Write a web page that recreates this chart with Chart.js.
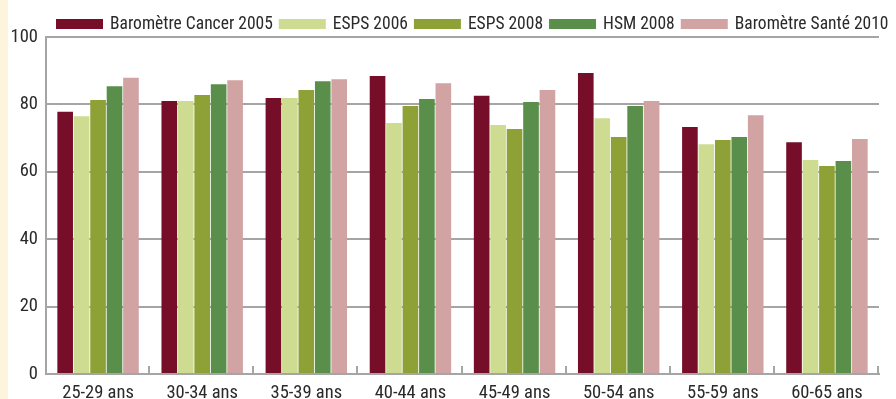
<!DOCTYPE html>
<html>
<head>
<meta charset="utf-8">
<script src="https://cdn.jsdelivr.net/npm/chart.js@4.4.1/dist/chart.umd.min.js"></script>
<style>
  html, body { margin: 0; padding: 0; }
  body {
    width: 896px; height: 399px; overflow: hidden;
    background: linear-gradient(to right, #fcf4db 0, #fcf4db 8px, #ffffff 8px);
  }
  canvas { display: block; }
</style>
</head>
<body>
<canvas id="chart" width="896" height="399"></canvas>
<script>
// Age groups along the x axis
const ageGroups = ['25-29 ans', '30-34 ans', '35-39 ans', '40-44 ans', '45-49 ans', '50-54 ans', '55-59 ans', '60-65 ans'];

// Percentages per survey
const barometreCancer2005 = [77.8, 81.0, 81.9, 88.4, 82.6, 89.3, 73.3, 68.8];
const esps2006            = [76.5, 81.0, 81.9, 74.5, 73.9, 75.9, 68.2, 63.5];
const esps2008            = [81.3, 82.8, 84.3, 79.5, 72.7, 70.3, 69.4, 61.7];
const hsm2008             = [85.4, 86.0, 86.9, 81.6, 80.7, 79.5, 70.3, 63.2];
const barometreSante2010  = [87.9, 87.2, 87.5, 86.3, 84.3, 81.0, 76.8, 69.7];

// Value axis ticks
const yTicks = [0, 20, 40, 60, 80, 100];

const FONT_FAMILY = '"Roboto Condensed", Roboto, sans-serif';
const FONT_SIZE = 18.5;
const LEGEND_FONT_SIZE = 17.5;
const TEXT_COLOR = '#2a2a2a';
const GRID_COLOR = '#a5a5a5';

// Legend drawn as a single row above the plot
const topLegend = {
  id: 'topLegend',
  afterDraw(chart) {
    const ctx = chart.ctx;
    const boxW = 47, boxH = 10, gapText = 7, gapItem = 6;
    const yc = 24;
    ctx.save();
    ctx.font = LEGEND_FONT_SIZE + 'px ' + FONT_FAMILY;
    ctx.textBaseline = 'middle';
    let x = chart.chartArea.left + 10;
    const items = [];
    chart.data.datasets.forEach(ds => {
      items.push({ x, ds });
      x += boxW + gapText + ctx.measureText(ds.label).width + gapItem;
    });
    items.forEach(it => {
      ctx.fillStyle = it.ds.backgroundColor;
      ctx.fillRect(it.x, yc - boxH / 2, boxW, boxH);
    });
    ctx.fillStyle = TEXT_COLOR;
    items.forEach(it => {
      ctx.fillText(it.ds.label, it.x + boxW + gapText, yc + 1);
    });
    ctx.restore();
  }
};

// Short upward ticks on the baseline between age groups
const groupTicks = {
  id: 'groupTicks',
  afterDraw(chart) {
    const xs = chart.scales.x;
    const ctx = chart.ctx;
    const n = chart.data.labels.length;
    const base = chart.chartArea.bottom;
    ctx.save();
    ctx.strokeStyle = GRID_COLOR;
    ctx.lineWidth = 2;
    ctx.beginPath();
    for (let i = 1; i <= n; i++) {
      const px = Math.round(xs.getPixelForValue(i - 0.5)) - 1;
      ctx.moveTo(px, base);
      ctx.lineTo(px, base - 8);
    }
    ctx.stroke();
    ctx.restore();
  }
};

const series = [
  { label: 'Baromètre Cancer 2005', data: barometreCancer2005, color: '#760e2a' },
  { label: 'ESPS 2006',             data: esps2006,            color: '#cddc91' },
  { label: 'ESPS 2008',             data: esps2008,            color: '#8ea136' },
  { label: 'HSM 2008',              data: hsm2008,             color: '#5a8f4b' },
  { label: 'Baromètre Santé 2010',  data: barometreSante2010,  color: '#d1a3a3' }
];

new Chart(document.getElementById('chart'), {
  type: 'bar',
  data: {
    labels: ageGroups,
    datasets: series.map(s => ({
      label: s.label,
      data: s.data,
      backgroundColor: s.color,
      borderWidth: 0,
      categoryPercentage: 0.79,
      barPercentage: 0.95
    }))
  },
  options: {
    responsive: false,
    animation: false,
    devicePixelRatio: 1,
    layout: { padding: { top: 37, right: 17, bottom: 0, left: 0 } },
    plugins: {
      legend: { display: false },
      tooltip: { enabled: false }
    },
    scales: {
      x: {
        grid: { display: false, drawTicks: false },
        border: { display: true, color: GRID_COLOR, width: 2 },
        ticks: {
          color: TEXT_COLOR,
          font: { family: FONT_FAMILY, size: FONT_SIZE },
          padding: 8,
          maxRotation: 0,
          autoSkip: false
        },
        afterFit(scale) { scale.height = 25; }
      },
      y: {
        min: 0,
        max: 100,
        afterBuildTicks(scale) { scale.ticks = yTicks.map(v => ({ value: v })); },
        grid: { color: GRID_COLOR, lineWidth: 2, drawTicks: false },
        border: { display: true, color: GRID_COLOR, width: 2 },
        ticks: {
          color: TEXT_COLOR,
          font: { family: FONT_FAMILY, size: FONT_SIZE },
          padding: 8
        },
        afterFit(scale) { scale.width = 46; }
      }
    }
  },
  plugins: [topLegend, groupTicks]
});
</script>
</body>
</html>
